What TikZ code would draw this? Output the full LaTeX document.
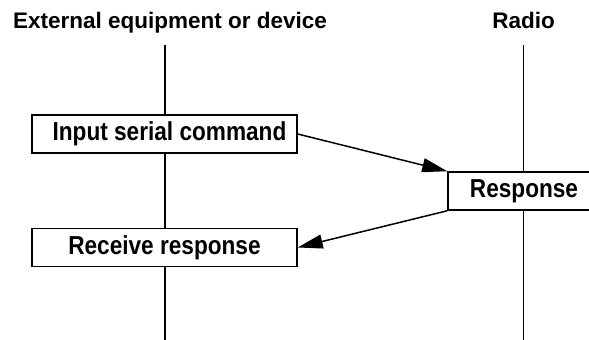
\documentclass[tikz,border=0pt]{standalone}
\usepackage{fontspec}
\setmainfont{Liberation Sans}
\newfontfamily\boxfont{Liberation Sans}[FakeStretch=0.87]
\usetikzlibrary{arrows.meta}
\begin{document}
\begin{tikzpicture}[x=1pt,y=-1pt,
  lifeline/.style={line width=1.1pt},
  stepbox/.style={draw, line width=1.5pt, fill=white, minimum height=38pt, inner sep=0pt,
    font=\boxfont\bfseries\fontsize{26}{28}\selectfont},
  title/.style={font=\bfseries\fontsize{22.5}{25}\selectfont, inner sep=0pt},
  msg/.style={line width=1.5pt, -{Triangle[length=25pt,width=14pt]}}]
\useasboundingbox (0,0) rectangle (589,340);
\node[title, anchor=base] (ext) at (170,28) {External equipment or device};
\node[title, anchor=base] (radio) at (523.5,28) {Radio};
\coordinate (lt) at (165,45);
\coordinate (lb) at (165,341);
\coordinate (rt) at (523.5,45);
\coordinate (rb) at (523.5,341);
\draw[lifeline] (lt) -- (lb);
\draw[lifeline] (rt) -- (rb);
\node[stepbox, minimum width=265pt] (cmd) at (164.5,134) {\hspace{10pt}Input serial command};
\node[stepbox, minimum width=152pt] (resp) at (524,191) {Response};
\node[stepbox, minimum width=265pt] (recv) at (164.5,247.5) {Receive response};
\draw[msg] (cmd.east) -- (resp.north west);
\draw[msg] (resp.south west) -- (recv.east);
\end{tikzpicture}
\end{document}
